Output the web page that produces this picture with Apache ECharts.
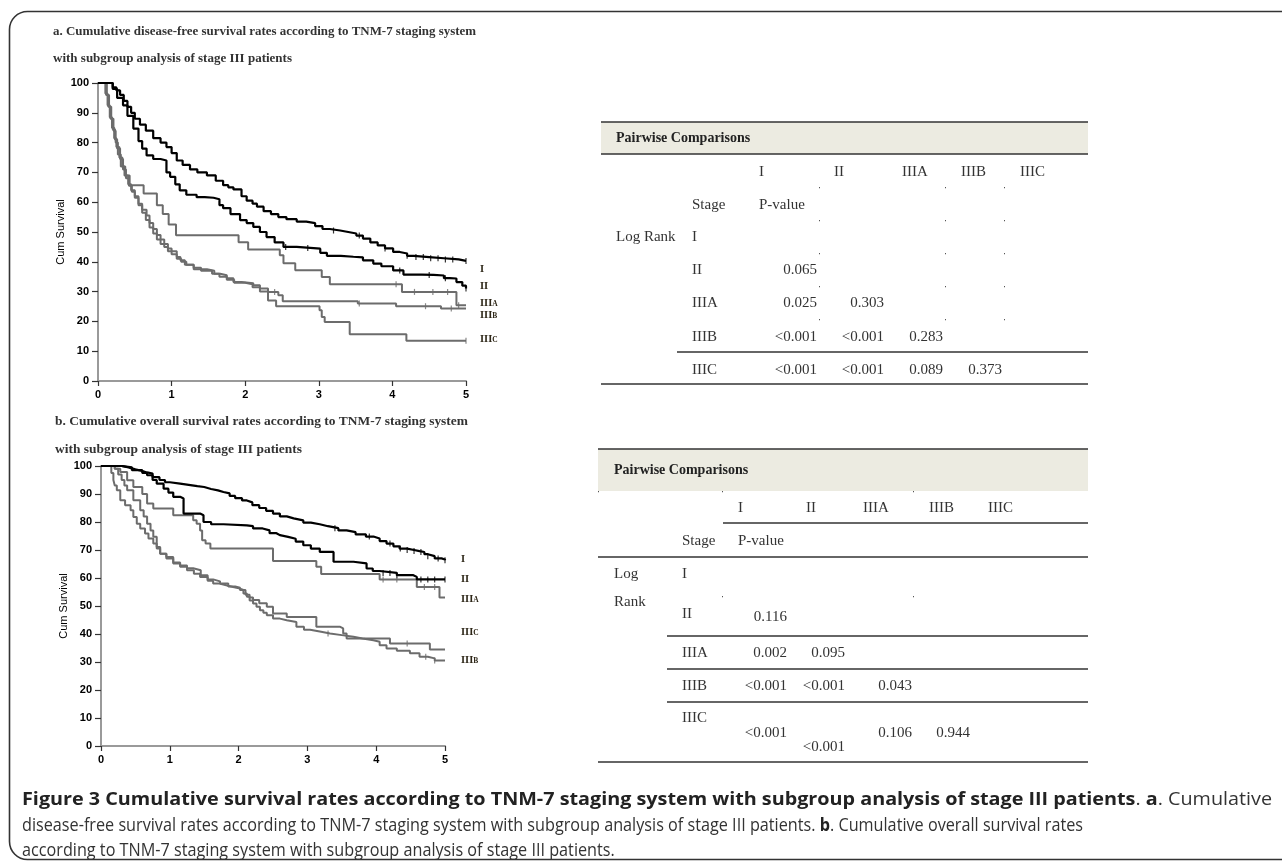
<!DOCTYPE html>
<html><head><meta charset="utf-8">
<script src="https://cdn.jsdelivr.net/npm/echarts/dist/echarts.min.js"></script>
<style>html,body{margin:0;padding:0;background:#fff}#c{width:1282px;height:866px}</style>
</head><body><div id="c"></div>
<script>
// ---------------- DATA ----------------
const xTicks = [0, 1, 2, 3, 4, 5];
const stageNames = ['I', 'II', 'IIIA', 'IIIB', 'IIIC'];

// a. disease-free survival (time in years, cum survival %)
const dfsI = [[0,100],[0.15,100],[0.2,98.5],[0.25,97.5],[0.3,96],[0.35,94],[0.4,92],[0.45,90],[0.5,88],[0.57,86],[0.65,84],[0.75,81.5],[0.85,80],[0.93,78.5],[1.0,76.5],[1.07,74],[1.15,72.5],[1.25,71],[1.35,70],[1.48,69],[1.6,67.2],[1.7,65.7],[1.77,65],[1.84,64.3],[1.95,62],[2.02,60.5],[2.1,59.5],[2.16,58.5],[2.25,57],[2.35,56],[2.45,55],[2.56,54.3],[2.7,53.5],[2.83,53],[2.95,52],[3.05,51],[3.15,50.5],[3.29,50],[3.4,49.5],[3.51,48.8],[3.6,47.8],[3.7,46.5],[3.8,45.5],[3.9,44.5],[4.01,43.3],[4.1,42.8],[4.2,42],[4.29,41.6],[4.5,41.2],[4.7,40.8],[4.9,40.3],[5.0,40.3]];
const dfsII = [[0,100],[0.15,100],[0.2,98],[0.26,95],[0.34,92.5],[0.4,89],[0.48,84.7],[0.55,80.5],[0.6,78],[0.66,75.7],[0.75,74.5],[0.85,74],[0.93,70],[0.98,68.5],[1.05,66],[1.11,64],[1.2,62.5],[1.34,61.7],[1.45,61.5],[1.57,61],[1.65,59],[1.7,58],[1.8,56],[1.93,54],[2.02,53],[2.11,51.7],[2.2,50],[2.29,48.3],[2.4,46.5],[2.52,45],[2.7,44.6],[2.93,44.4],[3.02,43],[3.11,42],[3.3,41.7],[3.47,41.5],[3.6,40.5],[3.74,39.4],[3.85,38.5],[4.01,37.1],[4.15,35.7],[4.4,35.6],[4.56,35.4],[4.7,34.5],[4.78,34.4],[4.87,33.2],[4.95,32],[5.0,31]];
const dfsIIIA = [[0,100],[0.09,100],[0.12,96],[0.15,92],[0.18,88],[0.21,84],[0.24,80],[0.27,76],[0.31,72],[0.36,69],[0.43,65.7],[0.62,62.9],[0.8,59],[0.88,56],[0.96,52.5],[1.06,48.9],[1.91,46.6],[2.04,44.1],[2.47,42.2],[2.52,39.5],[2.68,37.2],[3.04,34.9],[3.15,32.5],[4.13,29.9],[4.87,25.4],[5.0,25.4]];
const dfsIIIB = [[0,100],[0.08,100],[0.11,96],[0.14,92],[0.17,88],[0.2,84.5],[0.23,81],[0.26,78],[0.3,74.5],[0.34,71],[0.38,68],[0.42,65.5],[0.46,63.5],[0.5,62],[0.55,59.5],[0.6,57.5],[0.66,55.5],[0.7,53],[0.75,51],[0.8,49],[0.85,47.5],[0.9,46],[0.95,44.5],[1.0,43.5],[1.07,41.6],[1.12,40.5],[1.18,39],[1.3,37.5],[1.48,37],[1.58,36],[1.66,35.5],[1.75,34.5],[1.84,33.2],[1.95,32.8],[2.11,32.1],[2.2,31],[2.31,29.9],[2.45,28.8],[2.51,26.8],[3.53,26.0],[4.05,25.1],[4.66,24.3],[5.0,24.3]];
const dfsIIIC = [[0,100],[0.07,100],[0.1,96.5],[0.13,92.5],[0.16,88.5],[0.19,85],[0.22,81.5],[0.25,78.5],[0.29,75],[0.33,72],[0.37,69],[0.41,66],[0.45,64],[0.5,61.5],[0.55,59],[0.6,56.5],[0.65,54],[0.7,51.5],[0.75,49.5],[0.8,47.5],[0.85,46],[0.9,45],[0.95,43.5],[1.0,42.5],[1.07,41],[1.13,40],[1.2,39],[1.3,38],[1.4,37],[1.55,36],[1.65,35],[1.75,34],[1.85,33],[2.0,32.5],[2.1,31.5],[2.2,30],[2.31,27],[2.42,25.1],[3.01,23.7],[3.04,21.5],[3.08,19.8],[3.42,15.7],[4.19,13.5],[5.0,13.5]];

// censored observations (time)
const dfsCensorI = [3.2,3.55,3.9,4.2,4.32,4.42,4.52,4.62,4.72,4.82,5.0];
const dfsCensorII = [2.55,2.85,4.1,4.5,4.72,5.0];
const dfsCensorIIIA = [4.05,4.3,4.55,4.75,4.9];
const dfsCensorIIIB = [2.4,3.55,4.45,4.8];
const dfsCensorIIIC = [5.0];

// b. overall survival
const osI = [[0,100],[0.2,100],[0.3,99.5],[0.4,98.8],[0.5,98.2],[0.6,97.7],[0.67,97.3],[0.75,96],[0.85,95],[0.93,94.2],[1.0,93.7],[1.15,93.2],[1.3,92.8],[1.4,92.5],[1.5,91.8],[1.6,91.3],[1.7,90.7],[1.78,90.2],[1.87,89.3],[1.95,88.5],[2.05,87.7],[2.12,87],[2.2,86],[2.3,85],[2.4,84],[2.5,83],[2.6,82],[2.7,81.3],[2.8,80.6],[2.94,79.8],[3.05,79.2],[3.18,78.5],[3.3,77.8],[3.45,77],[3.57,76.4],[3.7,75.6],[3.85,74.8],[3.96,74.1],[4.05,73.2],[4.15,72.3],[4.25,71.3],[4.34,70.5],[4.45,70],[4.55,69.6],[4.63,69.3],[4.7,68.5],[4.75,67.8],[4.85,67],[4.95,66.6],[5.0,66.3]];
const osII = [[0,100],[0.2,100],[0.3,99.5],[0.45,98.5],[0.6,97.5],[0.67,96.7],[0.75,95],[0.81,93.7],[0.91,91.9],[0.98,90.5],[1.05,89],[1.15,88.4],[1.2,83],[1.44,82.4],[1.49,80],[1.6,79.2],[1.78,78.8],[2.12,78.5],[2.21,77.7],[2.35,77],[2.45,76],[2.55,75.3],[2.6,74.7],[2.72,74],[2.83,73],[2.94,71.7],[3.05,70.5],[3.18,69.3],[3.38,65.8],[3.67,65.2],[3.86,63.4],[3.95,62.5],[4.05,61.8],[4.3,61],[4.54,60.4],[4.59,59.5],[5.0,59.5]];
const osIIIA = [[0,100],[0.15,100],[0.2,99],[0.28,97.9],[0.38,94.9],[0.47,92.5],[0.6,90],[0.67,86.6],[0.76,84.8],[1.05,82.4],[1.34,80.6],[1.39,79.4],[1.44,77],[1.47,73.5],[1.52,72.3],[1.59,70.5],[2.5,66.1],[3.13,64],[3.2,61.4],[4.05,59.5],[4.59,56.8],[4.92,53],[5.0,53]];
const osIIIB = [[0,100],[0.12,100],[0.15,97.5],[0.18,95],[0.2,93],[0.23,91.3],[0.28,87.8],[0.35,86],[0.43,84.2],[0.47,81.8],[0.52,79.4],[0.57,77.7],[0.64,75.9],[0.69,74.1],[0.76,72.3],[0.81,70.5],[0.86,68.7],[0.95,67],[1.05,65.2],[1.15,64],[1.25,62.8],[1.35,61.5],[1.44,60.4],[1.55,59],[1.63,58],[1.72,57.4],[1.82,56.8],[1.92,56.2],[2.02,55.7],[2.07,54.5],[2.12,53.3],[2.16,52],[2.21,50.9],[2.26,49.7],[2.31,48.5],[2.36,47.6],[2.41,46.7],[2.5,45.5],[2.6,44.9],[2.7,44.3],[2.84,42.6],[2.95,41.5],[3.04,40.8],[3.2,40.2],[3.33,39.6],[3.5,39],[3.67,38.4],[3.8,37.8],[3.96,37.2],[4.05,36],[4.15,34.8],[4.3,34],[4.49,33.1],[4.63,31.9],[4.75,31.3],[4.85,30.5],[5.0,30.5]];
const osIIIC = [[0,100],[0.15,100],[0.2,99],[0.25,97],[0.3,95],[0.34,93],[0.38,91.3],[0.47,87.8],[0.57,84.2],[0.62,82],[0.67,79.4],[0.72,77],[0.76,74.7],[0.81,71.1],[0.86,68.7],[0.95,67.5],[1.05,65.5],[1.15,64.5],[1.25,63.5],[1.34,62.8],[1.45,61],[1.55,59.5],[1.63,58.8],[1.73,58],[1.85,57],[1.95,56.5],[2.02,55.7],[2.1,54],[2.16,53],[2.21,52.1],[2.3,51],[2.41,49.7],[2.5,47.3],[2.7,46.1],[3.13,42.6],[3.47,42],[3.52,40.2],[3.57,38.4],[4.2,36.6],[4.78,34.5],[5.0,34.5]];

const osCensorI = [3.4,3.9,4.2,4.35,4.45,4.55,4.65,4.75,4.9,5.0];
const osCensorII = [4.1,4.2,4.3,4.65,4.75,4.85,5.0];
const osCensorIIIA = [4.1,4.3,4.7,4.85];
const osCensorIIIB = [3.3,4.72,4.85];
const osCensorIIIC = [4.45];

// Pairwise comparison tables (Log Rank P-values), lower triangle by row stage
const dfsPValues = [[], ['0.065'], ['0.025','0.303'], ['<0.001','<0.001','0.283'], ['<0.001','<0.001','0.089','0.373']];
const osPValues  = [[], ['0.116'], ['0.002','0.095'], ['<0.001','<0.001','0.043'], ['<0.001','<0.001','0.106','0.944']];

// ---------------- HELPERS ----------------
const ctx2d = document.createElement('canvas').getContext('2d');
function measure(str, font) { ctx2d.font = font; return ctx2d.measureText(str).width; }
function valueAt(curve, t) { let v = curve[0][1]; for (const p of curve) { if (p[0] <= t + 1e-9) v = p[1]; else break; } return v; }

const BLACK = '#000000', GRAY = '#6c6c6c';
const curveColors = [BLACK, BLACK, GRAY, GRAY, GRAY];

function kmSeries(curves, censors, gi) {
  const out = [];
  curves.forEach((c, i) => {
    out.push({ type: 'line', xAxisIndex: gi, yAxisIndex: gi, step: 'end', data: c, symbol: 'none',
      lineStyle: { color: curveColors[i], width: i < 2 ? 2.2 : 2 }, z: i < 2 ? 4 : 3, silent: true });
    out.push({ type: 'scatter', xAxisIndex: gi, yAxisIndex: gi, symbol: 'rect', symbolSize: [1.2, 6],
      itemStyle: { color: curveColors[i] }, data: censors[i].map(t => [t, valueAt(c, t)]), z: 5, silent: true });
  });
  return out;
}

function axisX(gi) {
  return { type: 'value', gridIndex: gi, min: 0, max: 5, interval: 1,
    axisLine: { show: true, lineStyle: { color: '#9a9a9a', width: 2 } },
    axisTick: { show: true, length: 5, lineStyle: { color: '#333', width: 1.2 } },
    axisLabel: { color: '#000', fontSize: 11, fontWeight: 'bold', fontFamily: 'Liberation Sans', margin: 8,
      formatter: v => String(xTicks[xTicks.indexOf(v)]) },
    splitLine: { show: false } };
}
function axisY(gi) {
  return { type: 'value', gridIndex: gi, min: 0, max: 100, interval: 10,
    name: 'Cum Survival', nameLocation: 'middle', nameGap: 29,
    nameTextStyle: { color: '#000', fontSize: 11, fontFamily: 'Liberation Sans' },
    axisLine: { show: true, lineStyle: { color: '#9a9a9a', width: 2 } },
    axisTick: { show: true, length: 6, lineStyle: { color: '#333', width: 1.2 } },
    axisLabel: { color: '#000', fontSize: 11, fontWeight: 'bold', fontFamily: 'Liberation Sans', margin: 9 },
    splitLine: { show: false } };
}

// ---------------- GRAPHICS ----------------
const g = [];
const SERIF = 'Liberation Serif';
function txt(x, y, s, o) {
  o = o || {};
  g.push({ type: 'text', x: x, y: y, scaleX: o.scaleX || 1, silent: true, z: 10,
    style: { text: s, x: 0, y: 0, fill: o.fill || '#333', fontSize: o.size || 15, fontFamily: o.family || SERIF,
      fontWeight: o.weight || 'normal', align: o.align || 'left', textAlign: o.align || 'left',
      verticalAlign: 'middle', textVerticalAlign: 'middle', rich: o.rich } });
}
function hline(x1, x2, y, color, w) {
  g.push({ type: 'line', silent: true, z: 9, shape: { x1: x1, y1: y, x2: x2, y2: y }, style: { stroke: color || '#333', lineWidth: w || 1.3 } });
}
function dot(x, y) {
  g.push({ type: 'rect', silent: true, z: 9, shape: { x: x, y: y, width: 1, height: 1.2 }, style: { fill: '#555' } });
}

// outer frame
g.push({ type: 'rect', silent: true, z: 1, shape: { x: 9.5, y: 11.5, width: 1310, height: 848, r: 18 },
  style: { fill: 'none', stroke: '#333', lineWidth: 1.6 } });

// chart titles
function fitTitle(x, y, s, target) {
  const font = 'bold 12px ' + SERIF;
  txt(x, y, s, { size: 12, weight: 'bold', fill: '#333', scaleX: target / measure(s, font) });
}
fitTitle(53, 32, 'a. Cumulative disease-free survival rates according to TNM-7 staging system', 423);
fitTitle(53, 59, 'with subgroup analysis of stage III patients', 239);
fitTitle(55, 422, 'b. Cumulative overall survival rates according to TNM-7 staging system', 413);
fitTitle(55, 450, 'with subgroup analysis of stage III patients', 247);

// stage labels at curve ends
const stageRich = { m: { fontSize: 10.5, fontWeight: 'bold', fontFamily: SERIF, fill: '#2e2718' },
                    s: { fontSize: 7.5, fontWeight: 'bold', fontFamily: SERIF, fill: '#2e2718', verticalAlign: 'bottom' } };
function stageLabel(x, y, name) {
  const str = name.length > 2 && name.startsWith('III') ? '{m|III}{s|' + name.slice(3) + '}' : '{m|' + name + '}';
  txt(x, y, str, { rich: stageRich, size: 10.5, weight: 'bold' });
}
const labelPosA = [[480, 269], [480, 286], [480, 303], [480, 315], [480, 339]];
const labelPosB = [[461, 559], [461, 579], [461, 599], [461, 660], [461, 632]];
stageNames.forEach((n, i) => { stageLabel(labelPosA[i][0], labelPosA[i][1], n); stageLabel(labelPosB[i][0], labelPosB[i][1], n); });

// tables
const tFont = 15;
function table(L, pvals) {
  g.push({ type: 'rect', silent: true, z: 8, shape: { x: L.x0, y: L.bandTop, width: L.x1 - L.x0, height: L.bandH }, style: { fill: '#ecebe1' } });
  hline(L.x0, L.x1, L.bandTop, '#333', 1.5);
  if (L.bandLine) hline(L.x0, L.x1, L.bandTop + L.bandH, '#333', 1.5);
  txt(L.titleX, L.bandTop + L.bandH / 2, 'Pairwise Comparisons', { size: 14, weight: 'bold', fill: '#222' });
  stageNames.forEach((n, i) => txt(L.colX[i], L.headY, n, { size: tFont }));
  txt(L.stageX, L.stageHeadY, 'Stage', { size: tFont });
  txt(L.colX[0], L.stageHeadY, 'P-value', { size: tFont });
  L.logRank.forEach(p => txt(L.titleX, p[1], p[0], { size: tFont }));
  stageNames.forEach((n, i) => txt(L.stageX, L.rowY[i], n, { size: tFont }));
  pvals.forEach((row, r) => row.forEach((v, c) => {
    const y = L.cellY && L.cellY[r] ? L.cellY[r][c] : L.rowY[r];
    txt(L.valRight[c], y, v, { size: tFont, align: 'right' });
  }));
  L.lines.forEach(l => hline(l[0], l[1], l[2], '#333', 1.3));
  L.dots.forEach(d => dot(d[0], d[1]));
}
const dotsA = [];
[187, 220, 253, 286, 319].forEach(y => [819, 945, 1004].forEach(x => dotsA.push([x, y])));
table({ x0: 601, x1: 1088, bandTop: 122, bandH: 32, bandLine: true, titleX: 616,
  colX: [759, 834, 902, 961, 1020], headY: 172, stageX: 692, stageHeadY: 205,
  logRank: [['Log Rank', 237]], rowY: [237, 270, 303, 337, 370], valRight: [817, 884, 943, 1002],
  lines: [[677, 1088, 352], [601, 1088, 384]], dots: dotsA }, dfsPValues);
table({ x0: 598, x1: 1088, bandTop: 449, bandH: 42, bandLine: false, titleX: 614,
  colX: [738, 806, 863, 929, 988], headY: 508, stageX: 682, stageHeadY: 541,
  logRank: [['Log', 574], ['Rank', 602]], rowY: [574, 614, 653, 686, 718], valRight: [787, 845, 912, 970],
  cellY: [null, [617], [653, 653], [686, 686, 686], [733, 747, 733, 733]],
  lines: [[723, 1088, 523], [598, 1088, 557], [667, 1088, 636], [667, 1088, 669], [667, 1088, 702], [598, 1088, 762]],
  dots: [[598, 491], [722, 491], [913, 491], [722, 596], [913, 596]] }, osPValues);

// caption
const CAP = 'Open Sans', CS = 18;
const capRich = { b: { fontFamily: CAP, fontWeight: 'bold', fontSize: CS, fill: '#222' },
                  n: { fontFamily: CAP, fontWeight: 'normal', fontSize: CS, fill: '#333' } };
function capLine(y, segs, target, forceScale) {
  let w = 0, str = '';
  segs.forEach(s => { w += measure(s[1], (s[0] === 'b' ? 'bold ' : '') + CS + 'px "' + CAP + '"'); str += '{' + s[0] + '|' + s[1] + '}'; });
  const sc = forceScale || target / w;
  txt(22, y, str, { rich: capRich, size: CS, family: CAP, scaleX: sc });
  return sc;
}
capLine(800, [['b', 'Figure 3 Cumulative survival rates according to TNM-7 staging system with subgroup analysis of stage III patients'], ['n', '. '], ['b', 'a'], ['n', '. Cumulative']], 1250);
const sc2 = capLine(826, [['n', 'disease-free survival rates according to TNM-7 staging system with subgroup analysis of stage III patients. '], ['b', 'b'], ['n', '. Cumulative overall survival rates']], 1061);
capLine(851, [['n', 'according to TNM-7 staging system with subgroup analysis of stage III patients.']], 0, sc2);

// ---------------- CHART ----------------
const chart = echarts.init(document.getElementById('c'), null, { renderer: 'canvas' });
chart.setOption({
  animation: false,
  backgroundColor: '#ffffff',
  grid: [{ left: 98, top: 83, width: 368, height: 298 }, { left: 101, top: 466, width: 344, height: 280 }],
  xAxis: [axisX(0), axisX(1)],
  yAxis: [axisY(0), axisY(1)],
  series: [].concat(
    kmSeries([dfsI, dfsII, dfsIIIA, dfsIIIB, dfsIIIC], [dfsCensorI, dfsCensorII, dfsCensorIIIA, dfsCensorIIIB, dfsCensorIIIC], 0),
    kmSeries([osI, osII, osIIIA, osIIIB, osIIIC], [osCensorI, osCensorII, osCensorIIIA, osCensorIIIB, osCensorIIIC], 1)
  ),
  graphic: { elements: g }
});
</script>
</body></html>
